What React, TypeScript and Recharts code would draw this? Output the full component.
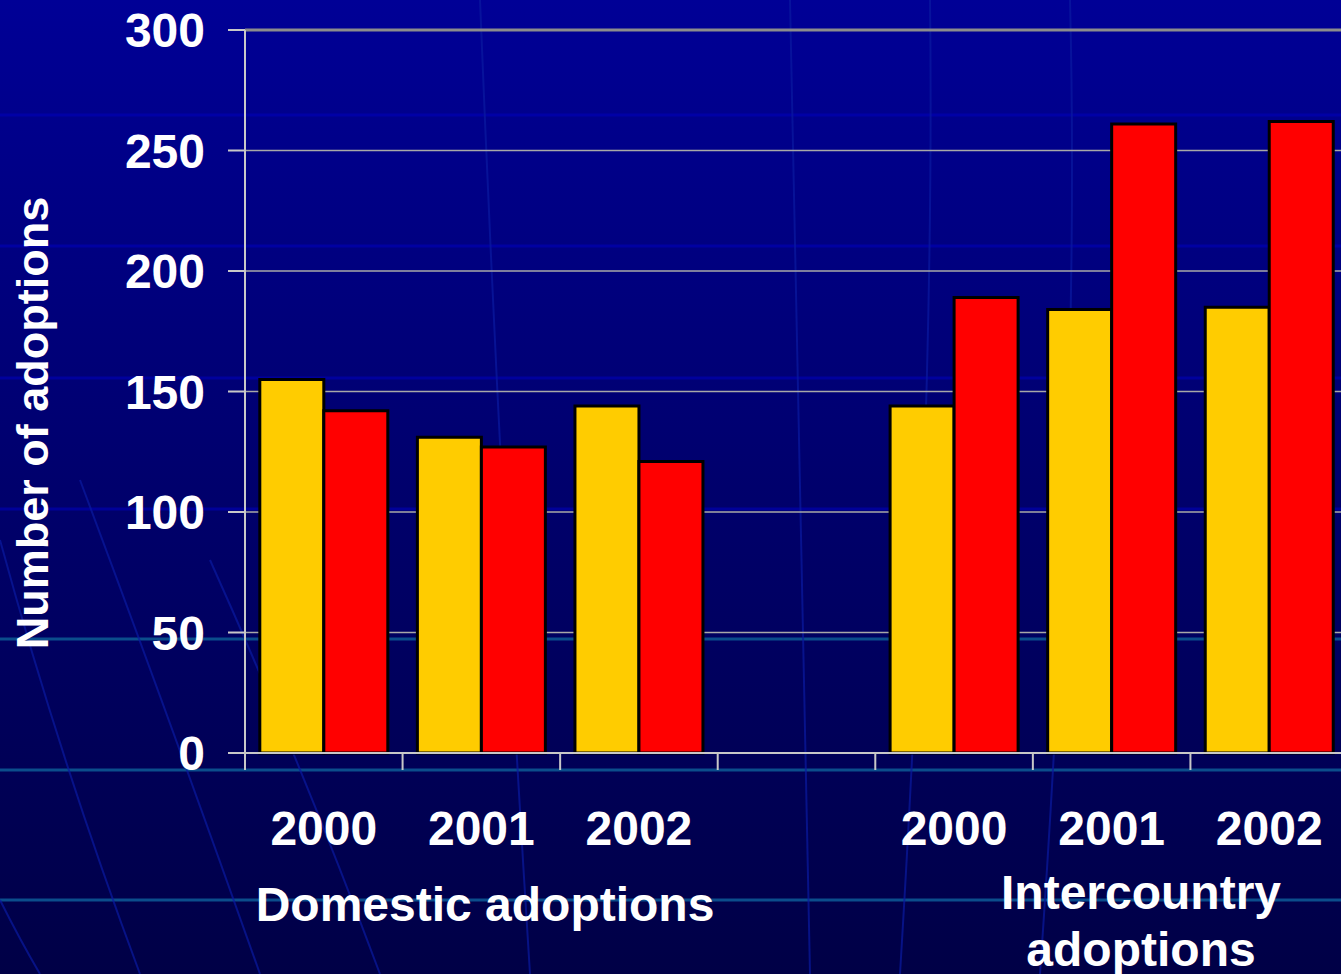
import React from "react";
import { Bar, BarChart, CartesianGrid, ReferenceLine, XAxis, YAxis } from "recharts";

const categories = ["2000", "2001", "2002", "", "2000", "2001", "2002"];
const yellowValues = [155, 131, 144, null, 144, 184, 185];
const redValues = [142, 127, 121, null, 189, 261, 262];
const yTicks = [0, 50, 100, 150, 200, 250, 300];

const data = categories.map((label, i) => ({
  label,
  yellow: yellowValues[i],
  red: redValues[i],
}));

const W = 1341;
const H = 974;
const CHART_W = 1348;
const Y_AXIS_W = 245;
const X_AXIS_H = 221;
const SLOT = (CHART_W - Y_AXIS_W) / categories.length;
const FONT = '"Liberation Sans", Arial, sans-serif';

function YearTick(props: any) {
  const { x, y, index, payload } = props;
  const left = x - SLOT / 2;
  return (
    <g>
      <line x1={left} x2={left} y1={y - 17} y2={y} stroke="#c8c8c8" strokeWidth={2} />
      <text
        x={x}
        y={y + 58}
        dy="0.355em"
        textAnchor="middle"
        fill="#ffffff"
        fontFamily={FONT}
        fontWeight="bold"
        fontSize={48}
      >
        {payload.value}
      </text>
    </g>
  );
}

function Backdrop() {
  const blueBands = [115, 246, 378, 509];
  const tealBands = [639, 770, 900];
  return (
    <svg width={W} height={H} style={{ position: "absolute", left: 0, top: 0 }}>
      <defs>
        <linearGradient id="bg" x1="0" y1="0" x2="0" y2="1">
          <stop offset="0%" stopColor="#000096" />
          <stop offset="50%" stopColor="#00006c" />
          <stop offset="100%" stopColor="#000046" />
        </linearGradient>
      </defs>
      <rect width={W} height={H} fill="url(#bg)" />
      {blueBands.map((y) => (
        <line key={y} x1={0} x2={W} y1={y} y2={y} stroke="#0000b8" strokeWidth={3} opacity={0.6} />
      ))}
      {tealBands.map((y) => (
        <line key={y} x1={0} x2={W} y1={y} y2={y} stroke="#0b4d8c" strokeWidth={3} />
      ))}
      <g stroke="#0a1aa0" strokeWidth={2} fill="none" opacity={0.7}>
        <path d="M0 540 Q60 760 140 974" />
        <path d="M80 480 Q170 720 260 974" />
        <path d="M210 560 Q300 760 380 974" />
        <path d="M480 0 Q500 500 530 974" />
        <path d="M790 0 Q800 500 810 974" />
        <path d="M930 0 Q935 400 900 974" />
        <path d="M1070 0 Q1080 400 1040 974" />
        <path d="M0 900 Q20 940 40 974" />
      </g>
    </svg>
  );
}

export default function App() {
  return (
    <div
      style={{
        position: "absolute",
        left: 0,
        top: 0,
        width: W,
        height: H,
        overflow: "hidden",
        fontFamily: FONT,
      }}
    >
      <Backdrop />
      <div style={{ position: "absolute", left: 0, top: 0 }}>
        <BarChart
          width={CHART_W}
          height={H}
          data={data}
          margin={{ top: 30, right: 0, bottom: 0, left: 0 }}
          barCategoryGap="9.4%"
          barGap={0}
        >
          <CartesianGrid vertical={false} stroke="#a8a8a8" strokeWidth={1.5} />
          <ReferenceLine y={300} stroke="#8c8c8c" strokeWidth={3} />
          <XAxis
            dataKey="label"
            height={X_AXIS_H}
            axisLine={{ stroke: "#c8c8c8", strokeWidth: 2 }}
            tickLine={false}
            tickSize={17}
            tickMargin={0}
            interval={0}
            tick={<YearTick />}
          />
          <YAxis
            width={Y_AXIS_W}
            domain={[0, 300]}
            ticks={yTicks}
            interval={0}
            axisLine={{ stroke: "#c8c8c8", strokeWidth: 2 }}
            tickLine={{ stroke: "#c8c8c8", strokeWidth: 2 }}
            tickSize={17}
            tickMargin={23}
            tick={{ fill: "#ffffff", fontFamily: FONT, fontWeight: "bold", fontSize: 48 }}
          />
          <Bar dataKey="yellow" fill="#ffcc00" stroke="#000000" strokeWidth={3} isAnimationActive={false} />
          <Bar dataKey="red" fill="#ff0000" stroke="#000000" strokeWidth={3} isAnimationActive={false} />
        </BarChart>
      </div>
      <div
        style={{
          position: "absolute",
          left: 32,
          top: 423,
          transform: "translate(-50%, -50%) rotate(-90deg)",
          whiteSpace: "nowrap",
          color: "#ffffff",
          fontWeight: "bold",
          fontSize: 45,
          lineHeight: 1,
        }}
      >
        Number of adoptions
      </div>
      <div
        style={{
          position: "absolute",
          left: 485,
          top: 905,
          transform: "translate(-50%, -50%)",
          whiteSpace: "nowrap",
          color: "#ffffff",
          fontWeight: "bold",
          fontSize: 48,
          lineHeight: 1,
        }}
      >
        Domestic adoptions
      </div>
      <div
        style={{
          position: "absolute",
          left: 1141,
          top: 921,
          transform: "translate(-50%, -50%)",
          whiteSpace: "nowrap",
          textAlign: "center",
          color: "#ffffff",
          fontWeight: "bold",
          fontSize: 48,
          lineHeight: "57px",
        }}
      >
        Intercountry
        <br />
        adoptions
      </div>
    </div>
  );
}
